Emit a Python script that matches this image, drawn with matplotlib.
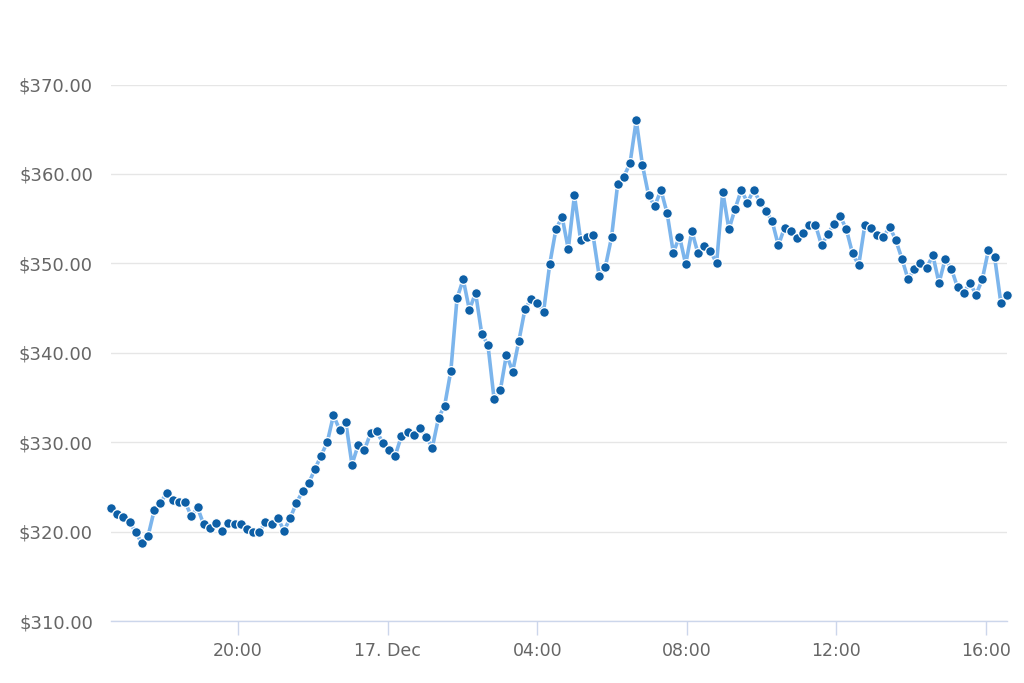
import matplotlib
matplotlib.use("Agg")
import matplotlib.pyplot as plt
import pandas as pd

# Price values (USD), ~10-minute intervals
prices = [
    322.6, 322.0, 321.6, 321.1, 319.9, 318.7, 319.5, 322.4, 323.2, 324.3,
    323.5, 323.3, 323.3, 321.7, 322.7, 320.8, 320.4, 321.0, 320.1, 321.0,
    320.9, 320.9, 320.3, 319.9, 319.9, 321.1, 320.8, 321.5, 320.1, 321.5,
    323.2, 324.5, 325.4, 327.0, 328.5, 330.0, 333.0, 331.4, 332.2, 327.5,
    329.7, 329.1, 331.0, 331.2, 329.9, 329.1, 328.5, 330.7, 331.1, 330.8,
    331.6, 330.6, 329.4, 332.7, 334.1, 338.0, 346.1, 348.2, 344.8, 346.7,
    342.1, 340.9, 334.8, 335.8, 339.8, 337.9, 341.3, 344.9, 346.0, 345.6,
    344.6, 349.9, 353.8, 355.2, 351.6, 357.6, 352.6, 352.9, 353.2, 348.6,
    349.6, 352.9, 358.9, 359.7, 361.2, 366.0, 361.0, 357.6, 356.4, 358.2,
    355.6, 351.2, 353.0, 349.9, 353.6, 351.1, 351.9, 351.4, 350.0, 358.0,
    353.8, 356.1, 358.2, 356.8, 358.2, 356.9, 355.9, 354.7, 352.0, 354.0,
    353.6, 352.8, 353.4, 354.3, 354.3, 352.0, 353.3, 354.4, 355.3, 353.8,
    351.1, 349.8, 354.3, 354.0, 353.2, 352.9, 354.1, 352.6, 350.5, 348.2,
    349.4, 350.0, 349.5, 350.9, 347.8, 350.5, 349.4, 347.3, 346.7, 347.8,
    346.5, 348.2, 351.5, 350.7, 345.6, 346.5,
]
start_time = "2017-12-16 16:36"
end_time = "2017-12-17 16:34"
times = pd.date_range(start_time, end_time, periods=len(prices))

y_ticks = [310, 320, 330, 340, 350, 360, 370]
x_ticks = pd.to_datetime(["2017-12-16 20:00", "2017-12-17 00:00", "2017-12-17 04:00",
                          "2017-12-17 08:00", "2017-12-17 12:00", "2017-12-17 16:00"])
x_labels = ["20:00", "17. Dec", "04:00", "08:00", "12:00", "16:00"]

fig = plt.figure(figsize=(10.24, 6.83), dpi=100)
ax = fig.add_axes([111 / 1024, 62 / 683, 896 / 1024, 536.5 / 683])

ax.plot(times, prices, color="#7cb5ec", lw=2.6, zorder=2,
        marker="o", markersize=7.0, markerfacecolor="#0d5fa6",
        markeredgecolor="white", markeredgewidth=0.9, clip_on=False)

ax.set_xlim(times[0], times[-1])
ax.set_ylim(310, 370)
ax.set_yticks(y_ticks)
ax.set_yticklabels([f"${v:.2f}" for v in y_ticks])
ax.set_xticks(x_ticks)
ax.set_xticklabels(x_labels)

ax.grid(axis="y", color="#e6e6e6", lw=1)
ax.set_axisbelow(True)
for s in ["top", "right", "left"]:
    ax.spines[s].set_visible(False)
ax.spines["bottom"].set_color("#ccd6eb")
ax.spines["bottom"].set_linewidth(1)
ax.spines["bottom"].set_zorder(1)

ax.tick_params(axis="y", length=0, pad=13, labelsize=13, labelcolor="#666666")
ax.tick_params(axis="x", length=10, width=1, color="#ccd6eb", pad=5,
               labelsize=12.5, labelcolor="#666666")

fig.savefig("out.png", dpi=100, facecolor="white")
